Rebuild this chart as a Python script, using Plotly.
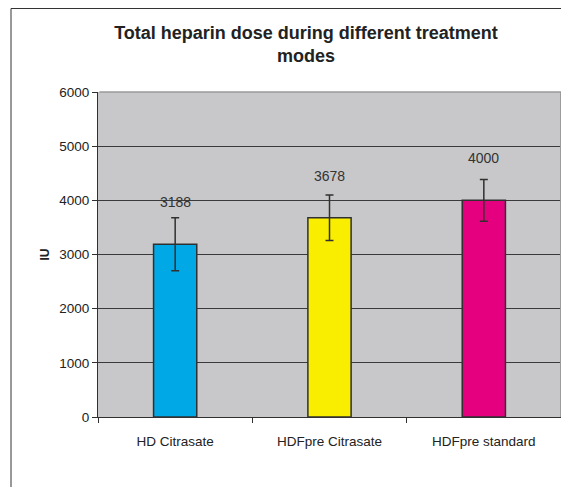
import plotly.graph_objects as go

categories = ["HD Citrasate", "HDFpre Citrasate", "HDFpre standard"]
values = [3188, 3678, 4000]
errors = [490, 420, 385]
colors = ["#00A8E6", "#FAEE00", "#E4007F"]
y_ticks = [0, 1000, 2000, 3000, 4000, 5000, 6000]

FONT = "Liberation Sans, Arial, sans-serif"
W, H = 561, 487
ML, MR, MT, MB = 98, 0, 92, 70
pw = W - ML - MR
ph = H - MT - MB

fig = go.Figure()
fig.add_trace(go.Bar(
    x=categories, y=values,
    marker=dict(color=colors, line=dict(color="#303030", width=1.5)),
    error_y=dict(type="data", array=errors, visible=True,
                 color="#303030", thickness=1.5, width=4),
    showlegend=False,
))

for c, v in zip(categories, values):
    fig.add_annotation(x=c, y=v, text=str(v), showarrow=False,
                       yanchor="middle", yshift=42,
                       font=dict(family=FONT, size=14, color="#333333"))

# y-axis title
fig.add_annotation(xref="paper", yref="paper", x=(35 - ML) / pw, y=0.5,
                   text="<b>IU</b>", textangle=-90, showarrow=False,
                   font=dict(family=FONT, size=12, color="#222222"))

# plot area border (grey) on top and right
fig.add_shape(type="line", xref="paper", yref="paper", x0=0.003, x1=1, y0=1, y1=1,
              line=dict(color="#9A9A9A", width=1.5), layer="above")
fig.add_shape(type="line", xref="paper", yref="paper", x0=0.999, x1=0.999, y0=0, y1=1,
              line=dict(color="#9A9A9A", width=1), layer="above")
# outer chart frame
fig.add_shape(type="rect", xref="paper", yref="paper",
              x0=(11 - ML) / pw, x1=1.2, y0=-0.5, y1=1 + (MT - 8.5) / ph,
              line=dict(color="#333333", width=1), fillcolor="rgba(0,0,0,0)")

fig.update_layout(
    width=W, height=H,
    margin=dict(l=ML, r=MR, t=MT, b=MB, pad=0),
    paper_bgcolor="white",
    plot_bgcolor="#C8C8CA",
    bargap=0.72,
    title=dict(text="<b>Total heparin dose during different treatment<br>modes</b>",
               x=306 / W, xanchor="center", y=1 - 39 / H, yanchor="middle",
               font=dict(family=FONT, size=18, color="#222222")),
    xaxis=dict(showgrid=False, showline=True, linecolor="#303030", linewidth=1,
               ticks="outside", ticklen=5, tickcolor="#303030", tickson="boundaries",
               ticklabelstandoff=12,
               tickfont=dict(family=FONT, size=13.5, color="#222222")),
    yaxis=dict(range=[0, 6000], tickvals=y_ticks, showgrid=True,
               gridcolor="#3A3A3A", gridwidth=1, showline=True, linecolor="#303030",
               linewidth=1, ticks="outside", ticklen=5, tickcolor="#303030",
               zeroline=False,
               tickfont=dict(family=FONT, size=13.5, color="#222222")),
)

fig.write_html(
    "out.html",
    config={"displayModeBar": False},
    post_script="document.body.style.margin='0';document.body.style.overflow='hidden';",
)
